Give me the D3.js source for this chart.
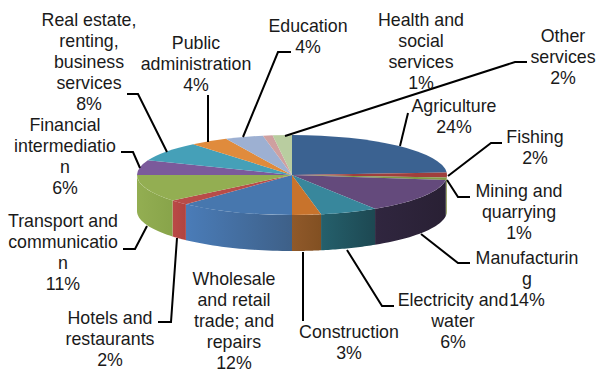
<!DOCTYPE html>
<html>
<head>
<meta charset="utf-8">
<script src="https://cdn.jsdelivr.net/npm/d3@7"></script>
<style>
html,body{margin:0;padding:0;background:#fff}
text{font-family:"Liberation Sans",Arial,sans-serif;font-size:17.8px;fill:#1a1a1a}
</style>
</head>
<body>
<svg id="chart" width="598" height="372"></svg>
<script>
// Employment share by sector, clockwise from twelve o'clock
const sectors = ["Agriculture","Fishing","Mining and quarrying","Manufacturing","Electricity and water","Construction","Wholesale and retail trade; and repairs","Hotels and restaurants","Transport and communication","Financial intermediation","Real estate, renting, business services","Public administration","Education","Health and social services","Other services"];
const shares = [24,2,1,14,6,3,12,2,11,6,8,4,4,1,2];
const topColors = ["#3b6291","#a03f3c","#7f9b46","#644a7c","#38879c","#c8732c","#4777ae","#b84c49","#93ae52","#7b5a9b","#45a0b8","#e08b3c","#9db0d2","#cfa0a0","#b9cda0"];
const wallLight = ["#3b6291","#a03f3c","#7f9b46","#30263f","#25606c","#90592a","#4a7cb8","#ba4a47","#93ae52","#7b5a9b","#45a0b8","#e08b3c","#9db0d2","#cfa0a0","#b9cda0"];
const wallDark  = ["#3b6291","#a03f3c","#7f9b46","#292034","#1d4852","#825022","#3e6088","#b04440","#88a44a","#7b5a9b","#45a0b8","#e08b3c","#9db0d2","#cfa0a0","#b9cda0"];

// Wrapped label text and where each block sits: [centre x, first baseline, leader polyline]
const labelLines = [
  ["Agriculture","24%"],["Fishing","2%"],["Mining and","quarrying","1%"],["Manufacturin","g","14%"],
  ["Electricity and","water","6%"],["Construction","3%"],["Wholesale","and retail","trade; and","repairs","12%"],
  ["Hotels and","restaurants","2%"],["Transport and","communicatio","n","11%"],["Financial","intermediatio","n","6%"],
  ["Real estate,","renting,","business","services","8%"],["Public","administration","4%"],["Education","4%"],
  ["Health and","social","services","1%"],["Other","services","2%"]
];
const labelLayout = [
  [454,112,[[408,113],[400,146]]],
  [535,143,[[502,143],[491,143],[448,176]]],
  [519,197,[[470,197],[458,197],[447,180]]],
  [527,264,[[470,263],[458,263],[421,234]]],
  [453,306,[[394,306],[382,306],[347,250]]],
  [349,338,[[303,321],[303,252]]],
  [234,285,[]],
  [110,324,[[158,322],[171,322],[177,238]]],
  [63,227,[[123,249],[135,249],[147,226]]],
  [65,131,[[121,152],[133,152],[140,168]]],
  [89,26,[[127,94],[138,94],[167,152]]],
  [196,49,[[208,95],[208,142]]],
  [308,32,[[291,52],[278,52],[243,137]]],
  [421,26,[]],
  [563,42,[[527,62],[515,62],[285,136]]]
];

const cx = 292, cy = 175, rx = 155, ry = 40, depth = 36, lineStep = 21;
const svg = d3.select("#chart");
const defs = svg.append("defs");

const pieLayout = d3.pie().sort(null).value(d => d)(shares);
const xAt = a => cx + rx * Math.sin(a);
const yAt = a => cy - ry * Math.cos(a);

// Walls: only the part of each slice on the near side of the ellipse is visible
const HALF = Math.PI / 2, END = 3 * Math.PI / 2;
const wall = svg.append("g");
pieLayout.forEach((d, i) => {
  const a0 = Math.max(d.startAngle, HALF), a1 = Math.min(d.endAngle, END);
  if (a1 <= a0) return;
  const id = "wall" + i;
  const g = defs.append("linearGradient").attr("id", id).attr("gradientUnits", "userSpaceOnUse")
    .attr("x1", xAt(a1)).attr("x2", xAt(a0)).attr("y1", 0).attr("y2", 0);
  g.append("stop").attr("offset", 0).attr("stop-color", wallLight[i]);
  g.append("stop").attr("offset", 1).attr("stop-color", wallDark[i]);
  const n = 24, pts = d3.range(n + 1).map(k => a0 + (a1 - a0) * k / n);
  const upper = pts.map(a => [xAt(a), yAt(a)]);
  const lower = pts.slice().reverse().map(a => [xAt(a), yAt(a) + depth]);
  wall.append("path").attr("d", d3.line()(upper.concat(lower)) + "Z").attr("fill", `url(#${id})`);
});

// Top face: a flat pie squashed into an ellipse
const arc = d3.arc().innerRadius(0).outerRadius(rx);
svg.append("g").attr("transform", `translate(${cx},${cy}) scale(1,${ry / rx})`)
  .selectAll("path").data(pieLayout).join("path")
  .attr("d", arc).attr("fill", (d, i) => topColors[i]);

// Leader lines
svg.append("g").selectAll("path").data(labelLayout.filter(d => d[2].length)).join("path")
  .attr("d", d => d3.line()(d[2])).attr("fill", "none").attr("stroke", "#000").attr("stroke-width", 2);

// Labels
const labels = svg.append("g").attr("text-anchor", "middle");
labelLines.forEach((lines, i) => {
  const [x, y] = labelLayout[i];
  lines.forEach((t, k) => labels.append("text").attr("x", x).attr("y", y + k * lineStep).text(t));
});
</script>
</body>
</html>
